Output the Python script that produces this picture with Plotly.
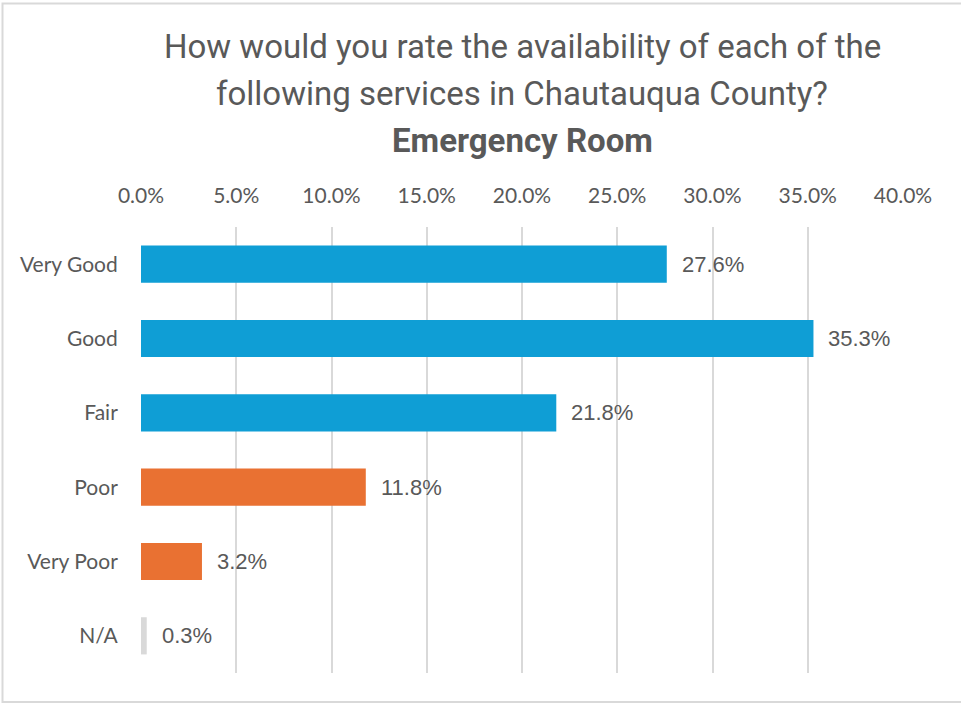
import plotly.graph_objects as go

categories = ["Very Good", "Good", "Fair", "Poor", "Very Poor", "N/A"]
values = [0.276, 0.353, 0.218, 0.118, 0.032, 0.003]
bar_colors = ["#0F9ED5", "#0F9ED5", "#0F9ED5", "#E97132", "#E97132", "#D9D9D9"]
tick_vals = [0, 0.05, 0.10, 0.15, 0.20, 0.25, 0.30, 0.35, 0.40]
title_lines = ["How would you rate the availability of each of the",
               "following services in Chautauqua County?"]
subtitle = "Emergency Room"

W, H = 961, 704
L, R, T, B = 141, 58, 227, 31
pw, ph = W - L - R, H - T - B

def px_x(p):
    return (p - L) / pw

def px_y(p):
    return (H - B - p) / ph

TXT = "#595959"

fig = go.Figure()
fig.add_trace(go.Bar(
    y=categories, x=values, orientation="h",
    marker=dict(color=bar_colors, line=dict(width=0)),
    width=0.5, hoverinfo="skip",
))

annotations = []
for c, v in zip(categories, values):
    annotations.append(dict(
        x=v, y=c, xref="x", yref="y", text=f"{v*100:.1f}%",
        showarrow=False, xanchor="left", yanchor="middle", xshift=13,
        font=dict(family="Liberation Sans, Arial", size=22, color=TXT),
    ))

title_font = dict(family="Roboto", size=33, color=TXT)
for line, py in zip(title_lines, [47, 93]):
    annotations.append(dict(
        x=0.5, y=px_y(py), xref="paper", yref="paper", text=line,
        showarrow=False, xanchor="center", yanchor="middle", font=title_font,
    ))
annotations.append(dict(
    x=0.5, y=px_y(140), xref="paper", yref="paper", text=f"<b>{subtitle}</b>",
    showarrow=False, xanchor="center", yanchor="middle", font=title_font,
))

fig.update_layout(
    width=W, height=H,
    margin=dict(l=L, r=R, t=T, b=B, autoexpand=False),
    paper_bgcolor="white", plot_bgcolor="white",
    showlegend=False,
    annotations=annotations,
    xaxis=dict(
        side="top", range=[0, 0.40], tickvals=tick_vals, tickformat=".1%",
        showgrid=True, gridcolor="#D9D9D9", gridwidth=2,
        zeroline=False, showline=False,
        ticks="outside", ticklen=15, tickcolor="rgba(0,0,0,0)",
        tickfont=dict(family="Lato, Liberation Sans", size=21, color=TXT),
        fixedrange=True,
    ),
    yaxis=dict(
        autorange="reversed", showgrid=False, zeroline=False, showline=False,
        ticks="outside", ticklen=18, tickcolor="rgba(0,0,0,0)",
        tickfont=dict(family="Lato, Liberation Sans", size=21, color=TXT),
        fixedrange=True,
    ),
    shapes=[dict(
        type="rect", xref="paper", yref="paper",
        x0=px_x(2.5), x1=px_x(968), y0=px_y(702), y1=px_y(3.5),
        line=dict(color="#D9D9D9", width=2), fillcolor="rgba(0,0,0,0)",
        layer="below",
    )],
)

fig.write_html("out.html", config={"displayModeBar": False},
               post_script="document.body.style.margin='0';")
